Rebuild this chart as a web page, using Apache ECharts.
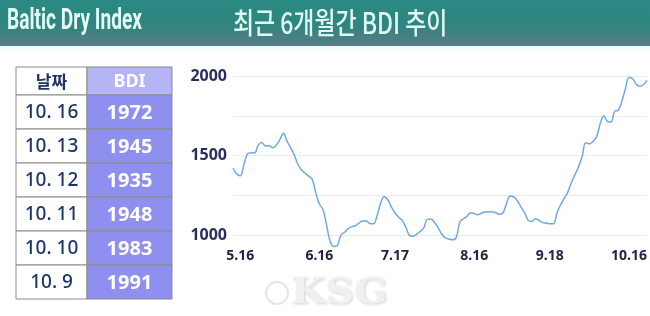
<!DOCTYPE html>
<html><head><meta charset="utf-8">
<script src="https://cdn.jsdelivr.net/npm/echarts@6/dist/echarts.min.js"></script>
<style>html,body{margin:0;padding:0;background:#fff}#c{width:650px;height:316px}</style>
</head><body><div id="c"></div>
<script>
// BDI daily values (mid-May to 10.16)
const values = [
  1420,1385,1372,1440,1510,1518,1516,1565,1582,1560,
  1562,1548,1565,1600,1640,1590,1550,1505,1445,1410,
  1390,1370,1350,1265,1195,1160,1060,960,928,935,
  1000,1017,1040,1053,1058,1075,1088,1088,1072,1070,
  1120,1200,1240,1222,1175,1140,1112,1092,1050,998,
  992,1005,1022,1045,1098,1100,1078,1045,1005,982,
  975,970,985,1080,1102,1118,1140,1135,1128,1137,
  1145,1147,1145,1140,1130,1140,1200,1245,1240,1215,
  1175,1140,1092,1085,1102,1092,1078,1075,1070,1070,
  1140,1190,1230,1270,1330,1380,1430,1495,1580,1573,
  1588,1618,1700,1750,1715,1710,1778,1785,1840,1920,
  1991,1983,1948,1935,1945,1972
];
const categories = values.map((_, i) => 'd' + i);
const tickLabels = ['5.16', '6.16', '7.17', '8.16', '9.18', '10.16'];
const tickIndex = [2, 24, 45, 67, 88, 110];
const yLabels = [1000, 1500, 2000];

const tableDates = ['10. 16', '10. 13', '10. 12', '10. 11', '10. 10', '10. 9'];
const tableValues = [1972, 1945, 1935, 1948, 1983, 1991];
const tableHead = ['날짜', 'BDI'];
const headerLeft = 'Baltic Dry Index';
const headerTitle = '최근 6개월간 BDI 추이';

const chart = echarts.init(document.getElementById('c'), null, {renderer: 'canvas'});

const graphics = [];
graphics.push({
  type: 'rect', shape: {x: 0, y: 0, width: 650, height: 46}, z: 1,
  style: {fill: new echarts.graphic.LinearGradient(0, 0, 0, 1, [
    {offset: 0, color: '#2a8a83'}, {offset: 0.55, color: '#2f857f'}, {offset: 1, color: '#5a7c86'}
  ])}
});
graphics.push({
  type: 'rect', shape: {x: 0, y: 46, width: 650, height: 8}, z: 1,
  style: {fill: new echarts.graphic.LinearGradient(0, 0, 0, 1, [
    {offset: 0, color: '#eef8f8'}, {offset: 1, color: '#ffffff'}
  ])}
});
graphics.push({
  type: 'text', x: 7, y: 22, scaleX: 0.66, z: 2,
  style: {text: headerLeft, fill: '#e3fcf5', font: 'bold 29px Roboto', textVerticalAlign: 'middle', textAlign: 'left'}
});
graphics.push({
  type: 'text', x: 233, y: 23, scaleX: 0.79, z: 2,
  style: {text: headerTitle, fill: '#dff8f2', font: '500 29px "Noto Sans CJK KR"', textVerticalAlign: 'middle', textAlign: 'left'}
});

// table
const tX = [16, 87, 172];
const headTop = 67, headH = 28, rowH = 34;
const border = '#8a8a8a';
graphics.push({type: 'rect', shape: {x: tX[0], y: headTop, width: tX[1]-tX[0], height: headH}, z: 2,
  style: {fill: '#ffffff', stroke: border, lineWidth: 1}});
graphics.push({type: 'rect', shape: {x: tX[1], y: headTop, width: tX[2]-tX[1], height: headH}, z: 2,
  style: {fill: '#b5b5f6', stroke: border, lineWidth: 1}});
graphics.push({type: 'text', x: (tX[0]+tX[1])/2, y: headTop + headH/2 + 1, z: 3,
  style: {text: tableHead[0], fill: '#1f3562', font: 'bold 17px "Noto Sans CJK KR"', textAlign: 'center', textVerticalAlign: 'middle'}});
graphics.push({type: 'text', x: (tX[1]+tX[2])/2, y: headTop + headH/2 + 1, z: 3,
  style: {text: tableHead[1], fill: '#ffffff', font: 'bold 18px "Noto Sans"', textAlign: 'center', textVerticalAlign: 'middle'}});
tableDates.forEach((d, i) => {
  const y = headTop + headH + rowH * i;
  graphics.push({type: 'rect', shape: {x: tX[0], y: y, width: tX[1]-tX[0], height: rowH}, z: 2,
    style: {fill: '#ffffff', stroke: border, lineWidth: 1}});
  graphics.push({type: 'rect', shape: {x: tX[1], y: y, width: tX[2]-tX[1], height: rowH}, z: 2,
    style: {fill: '#8f8ff0', stroke: border, lineWidth: 1}});
  graphics.push({type: 'text', x: (tX[0]+tX[1])/2, y: y + rowH/2 + 1, z: 3,
    style: {text: d, fill: '#1c3668', font: '500 19px "Noto Sans"', textAlign: 'center', textVerticalAlign: 'middle'}});
  graphics.push({type: 'text', x: (tX[1]+tX[2])/2, y: y + rowH/2 + 1, z: 3,
    style: {text: String(tableValues[i]), fill: '#ffffff', font: 'bold 20px "Noto Sans"', textAlign: 'center', textVerticalAlign: 'middle'}});
});

// watermark
graphics.push({type: 'circle', shape: {cx: 277, cy: 293, r: 11}, z: 0,
  style: {fill: 'none', stroke: '#e6e6e6', lineWidth: 2}});
graphics.push({type: 'text', x: 291, y: 294, scaleX: 1.1, z: 0,
  style: {text: 'KSG', fill: '#f0f0f0', font: 'bold 36px "DejaVu Serif"', textVerticalAlign: 'middle',
    textShadowColor: '#d0d0d0', textShadowBlur: 3, textShadowOffsetX: 1, textShadowOffsetY: 1}});

chart.setOption({
  animation: false,
  backgroundColor: '#ffffff',
  grid: {left: 233, right: 3, top: 76, bottom: 81, containLabel: false},
  xAxis: {
    type: 'category', data: categories, boundaryGap: false,
    axisLine: {show: false}, axisTick: {show: false}, splitLine: {show: false},
    axisLabel: {
      interval: (index) => tickIndex.indexOf(index) >= 0,
      formatter: (v, index) => { const k = tickIndex.indexOf(index); return k >= 0 ? tickLabels[k] : ''; },
      margin: 14, color: '#2a2148', fontWeight: 'bold', fontSize: 14, fontFamily: 'Noto Sans'
    }
  },
  yAxis: {
    type: 'value', min: 1000, max: 2000, interval: 250,
    axisLine: {show: false}, axisTick: {show: false},
    splitLine: {lineStyle: {color: '#ececec', width: 1}},
    axisLabel: {
      formatter: (v) => yLabels.indexOf(v) >= 0 ? String(v) : '',
      margin: 6, color: '#2b2d5c', fontWeight: 'bold', fontSize: 16, fontFamily: 'Noto Sans'
    }
  },
  series: [{
    type: 'line', data: values, smooth: 0.4, symbol: 'none', clip: false,
    lineStyle: {color: '#72a8e2', width: 1.5}
  }],
  graphic: graphics
});
</script>
</body></html>
